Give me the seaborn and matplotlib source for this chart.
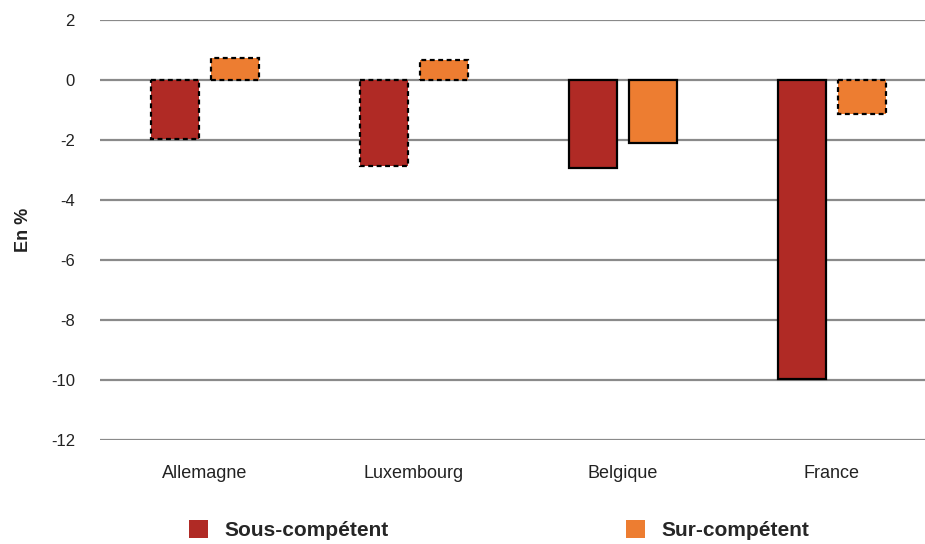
import matplotlib
matplotlib.use("Agg")
import matplotlib.pyplot as plt
import seaborn as sns
import pandas as pd
from matplotlib.patches import Patch

pays = ["Allemagne", "Luxembourg", "Belgique", "France"]
sous_competent = [-1.95, -2.87, -2.93, -9.97]
sur_competent = [0.73, 0.67, -2.1, -1.13]
# dashed outline marks the non-significant estimates
sous_significatif = [False, False, True, True]
sur_significatif = [False, False, True, False]
series = ["Sous-compétent", "Sur-compétent"]
couleurs = ["#B02A25", "#ED7D31"]
y_ticks = [2, 0, -2, -4, -6, -8, -10, -12]

df = pd.DataFrame({
    "pays": pays * 2,
    "valeur": sous_competent + sur_competent,
    "serie": [series[0]] * len(pays) + [series[1]] * len(pays),
})

sns.set_theme(style="white")
plt.rcParams["font.family"] = ["Liberation Sans", "DejaVu Sans"]

fig = plt.figure(figsize=(9.25, 5.44), dpi=100)
ax = fig.add_axes([100 / 925, 1 - 440 / 544, 825 / 925, 420 / 544])

sns.barplot(data=df, x="pays", y="valeur", hue="serie", order=pays,
            hue_order=series, palette=couleurs, width=0.574, gap=0.2,
            saturation=1, legend=False, ax=ax, zorder=3)

signif = sous_significatif + sur_significatif
for patch, sig in zip(ax.patches, signif):
    patch.set_edgecolor("black")
    patch.set_linewidth(1.6)
    if not sig:
        patch.set_linestyle((0, (2.2, 1.6)))

ax.set_ylim(-12, 2)
ax.set_xlim(-0.502, 3.445)
ax.set_yticks(y_ticks)
ax.set_yticklabels([str(v) for v in y_ticks], fontsize=12, color="#222222")
ax.yaxis.grid(True, color="#8a8a8a", linewidth=1.6, zorder=0)
ax.set_axisbelow(True)
for s in ax.spines.values():
    s.set_visible(False)
ax.tick_params(axis="both", length=0)
ax.tick_params(axis="y", pad=18)
ax.tick_params(axis="x", pad=18)
for lbl in ax.get_xticklabels():
    lbl.set_fontsize(13)
    lbl.set_color("#222222")
ax.set_xlabel("")
ax.set_ylabel("En %", fontsize=13, fontweight="bold", color="#222222")
ax.yaxis.set_label_coords(-0.082, 0.5, transform=ax.transAxes)

handles = [Patch(facecolor=c, edgecolor="none") for c in couleurs]
fig.legend(handles, series, loc="center", bbox_to_anchor=(0.54, 0.025),
           ncol=2, frameon=False, columnspacing=11.4, handlelength=0.9,
           handleheight=0.9, handletextpad=0.8,
           prop={"size": 15, "weight": "bold"})

fig.savefig("out.png", dpi=100)
